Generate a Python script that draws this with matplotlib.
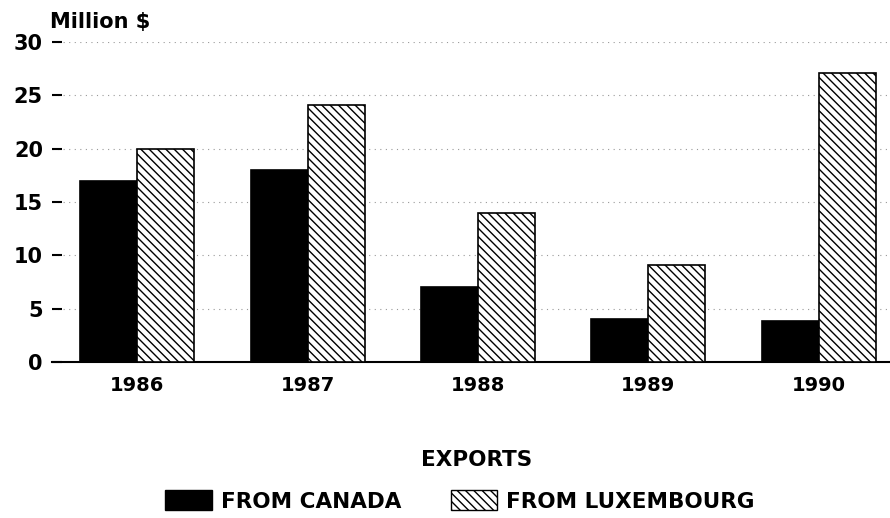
"""Exports from Canada and Luxembourg, 1986-1990."""

import matplotlib
import matplotlib.pyplot as plt
import numpy as np
from matplotlib.patches import Patch

matplotlib.use("Agg")

years = ["1986", "1987", "1988", "1989", "1990"]
from_canada = [17, 18, 7, 4, 3.8]
from_luxembourg = [20, 24.1, 14, 9.1, 27.1]
y_ticks = [0, 5, 10, 15, 20, 25, 30]

plt.rcParams["font.family"] = ["DejaVu Sans"]
plt.rcParams["font.weight"] = "bold"
plt.rcParams["hatch.linewidth"] = 1.0

HATCH = "\\\\\\\\"

fig = plt.figure(figsize=(8.9, 5.18), dpi=100)
ax = fig.add_axes([52 / 890, 1 - 362 / 518, 852 / 890, 320 / 518])

x = np.arange(len(years))
width = 0.335

ax.bar(x - width / 2, from_canada, width, color="black", edgecolor="black",
       linewidth=1.2, zorder=3)
ax.bar(x + width / 2, from_luxembourg, width, color="white", edgecolor="black",
       hatch=HATCH, linewidth=1.2, zorder=3)

ax.set_xlim(-0.5, 4.5)
ax.set_ylim(0, 30)
ax.set_yticks(y_ticks)
ax.set_xticks(x)
ax.set_xticklabels(years)

for side in ("top", "right", "left"):
    ax.spines[side].set_visible(False)
ax.spines["bottom"].set_linewidth(1.5)

ax.tick_params(axis="y", direction="in", length=7.5, width=1.5, pad=6.5,
               labelsize=15)
ax.tick_params(axis="x", length=0, pad=10, labelsize=14)
ax.yaxis.grid(True, linestyle=(0, (1, 4)), color="#999999", linewidth=0.8,
              zorder=0)

fig.text(50 / 890, 1 - 22 / 518, "Million $", fontsize=15, va="center",
         ha="left")
fig.text(477 / 890, 1 - 460 / 518, "EXPORTS", fontsize=15.5, va="center",
         ha="center")

handles = [
    Patch(facecolor="black", edgecolor="black", label="FROM CANADA"),
    Patch(facecolor="white", edgecolor="black", hatch=HATCH,
          label="FROM LUXEMBOURG"),
]
fig.legend(handles=handles, loc="center", ncol=2, frameon=False,
           bbox_to_anchor=(460 / 890, 1 - 501 / 518), fontsize=15.5,
           handlelength=2.15, handleheight=1.0, handletextpad=0.42,
           columnspacing=2.3, borderaxespad=0)

fig.savefig("out.png", dpi=100)
plt.close(fig)
